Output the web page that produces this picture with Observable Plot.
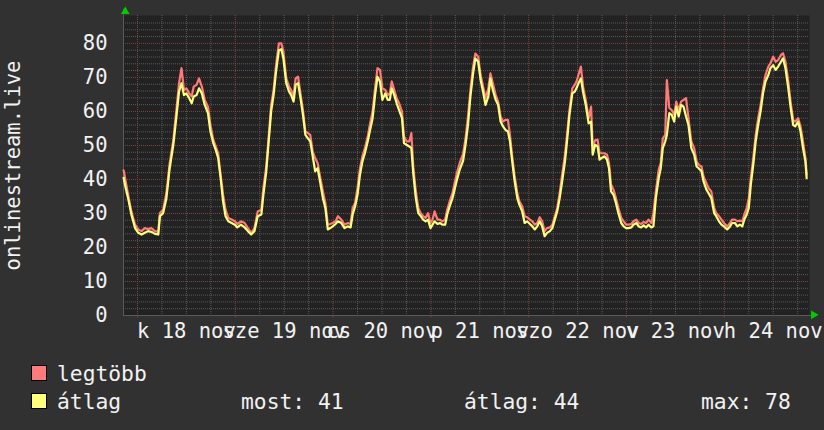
<!DOCTYPE html>
<html><head><meta charset="utf-8">
<script src="https://cdn.jsdelivr.net/npm/d3@7"></script>
<script src="https://cdn.jsdelivr.net/npm/@observablehq/plot@0.6"></script>
<style>
html,body{margin:0;padding:0;background:#313131;}
body{width:824px;height:430px;overflow:hidden;font-family:"DejaVu Sans Mono",monospace;color:#f2f2f2;}
#wrap{position:relative;width:824px;height:430px;}
#chart{position:absolute;left:0;top:0;}
.sw{position:absolute;width:14px;height:14px;border:1px solid #000;}
.lt{position:absolute;font-size:21.3px;line-height:1;white-space:pre;}
</style></head>
<body><div id="wrap"><div id="chart"></div></div>
<script>
// hours since 18 nov 00:00
const hours=[-3.4,-2.9,-2.3,-1.5,-0.6,0.2,1.0,1.8,2.6,3.4,4.3,5.1,5.5,6.3,7.1,7.9,8.8,9.6,10.2,10.8,11.4,12.0,12.7,13.3,13.8,14.5,15.1,15.8,16.5,17.3,17.9,18.6,19.2,19.8,20.4,21.0,21.6,22.3,23.1,23.9,24.5,
25.4,26.3,27.1,27.9,28.7,29.5,30.4,30.9,31.6,32.2,32.8,33.4,34.0,34.7,35.3,35.8,36.5,37.2,37.7,38.3,38.8,39.4,40.0,40.6,41.2,41.8,42.4,43.0,43.6,44.2,44.8,45.5,46.1,46.7,47.3,47.9,48.6,49.2,50.0,50.8,51.6,52.3,
52.8,53.4,54.0,54.6,55.2,55.8,56.5,57.0,57.7,58.3,58.9,59.5,60.1,60.8,61.4,61.9,62.4,63.0,63.6,64.2,64.9,65.4,66.0,66.7,67.2,67.7,68.3,68.9,69.5,70.1,70.7,71.3,71.9,72.4,72.9,73.6,74.2,74.8,75.5,76.0,76.6,77.3,77.9,78.5,79.1,
79.9,80.5,81.1,81.7,82.3,82.9,83.6,84.2,84.8,85.4,86.1,86.6,87.2,87.9,88.5,89.1,89.7,90.3,90.9,91.4,91.9,92.5,93.2,93.7,94.4,95.0,95.6,96.3,96.9,97.5,98.1,98.7,99.3,99.9,100.5,101.2,101.8,102.4,103.0,103.6,104.2,104.9,105.4,106.0,106.7,107.3,
107.8,108.2,108.8,109.4,110.0,110.7,111.3,111.7,112.3,112.9,113.4,113.9,114.6,115.2,115.7,116.2,116.8,117.4,118.0,118.7,119.3,119.9,120.5,121.2,121.7,122.4,123.0,123.6,124.2,124.8,125.4,126.1,126.6,127.2,127.9,128.4,128.9,129.5,129.9,130.5,131.1,131.7,132.2,132.8,133.4,134.0,134.6,135.2,
135.9,136.6,137.2,137.7,138.4,138.9,139.6,140.1,140.8,141.5,142.0,142.7,143.3,143.9,144.7,145.4,145.9,146.6,147.2,147.8,148.4,148.9,149.5,150.0,150.5,151.1,151.7,152.3,152.9,153.5,154.1,154.8,155.3,156.0,156.6,157.2,157.9,158.4,159.0,159.7,160.3,160.9,161.4,162.1,162.7,163.3,163.9,164.2];

// legtöbb (max)
const maxVals=[42.7,39.5,35.5,30.6,26.7,25.3,24.8,25.7,25.4,25.7,24.8,24.6,30.1,31.1,36.0,44.8,51.6,61.0,68.3,72.7,66.3,66.8,65.3,64.4,67.3,67.8,69.7,67.3,63.4,61.4,56.0,51.7,49.7,47.7,41.4,35.5,31.1,28.7,28.2,27.7,26.9,
27.7,27.2,25.7,24.3,25.7,30.6,31.1,37.5,43.8,52.6,61.9,66.3,73.6,80.0,80.0,77.6,69.7,67.3,66.3,64.4,69.7,70.2,65.3,60.4,54.1,53.6,53.1,48.2,46.3,44.8,40.9,36.5,33.1,26.7,26.9,27.2,27.7,29.2,28.2,26.7,27.2,26.9,
31.6,33.1,37.5,43.3,46.8,49.2,52.6,56.0,60.0,66.8,72.7,72.2,66.8,66.3,64.8,65.3,68.8,66.3,63.9,62.4,60.0,52.6,51.2,51.2,53.6,43.3,36.5,31.6,30.1,29.2,28.7,30.1,27.2,28.2,30.6,28.2,28.2,27.7,28.2,31.1,33.6,36.0,39.4,42.4,45.0,
47.5,52.1,58.5,66.3,72.7,77.0,76.1,70.7,67.3,63.9,66.8,71.2,68.3,64.8,62.9,58.5,57.0,57.5,57.5,53.1,47.3,41.4,36.0,33.6,32.1,29.2,28.9,28.2,27.7,26.7,27.2,28.9,27.7,24.8,25.7,25.9,26.7,29.2,31.6,36.0,41.4,47.3,53.1,60.4,66.8,67.8,
69.0,70.7,73.2,66.8,63.4,58.0,61.4,49.7,51.5,51.7,47.7,47.7,47.7,47.3,44.8,38.5,37.0,34.5,31.6,28.7,27.7,26.7,26.7,26.9,27.7,28.2,27.2,26.9,27.5,27.2,28.2,27.2,30.1,36.5,42.9,44.8,52.1,53.1,69.2,61.0,60.4,59.0,62.9,60.4,62.9,63.4,63.9,58.0,
51.2,49.2,45.3,44.3,43.8,40.9,38.9,37.5,36.5,31.6,30.1,29.2,28.2,27.2,26.2,27.2,28.2,28.2,27.7,27.9,27.7,29.7,31.6,34.5,40.4,46.3,53.1,58.0,61.9,66.8,70.7,73.2,74.1,76.1,74.6,75.1,76.6,77.1,74.6,68.8,62.4,57.5,57.0,58.0,55.6,51.2,46.3,41.4];

// átlag (average)
const avgVals=[40.5,37.5,34.5,29.7,25.7,24.3,23.8,24.3,24.8,24.6,24.0,23.8,29.2,30.1,34.5,43.3,50.2,59.0,65.8,68.3,64.8,65.3,63.9,62.4,64.4,64.8,66.8,65.3,61.9,59.5,54.1,50.7,48.7,46.3,40.4,33.6,29.2,27.7,27.2,26.7,25.9,
26.7,25.9,24.8,23.8,24.8,29.2,29.7,35.5,42.4,51.2,60.0,64.8,71.7,78.0,78.3,75.6,68.3,65.8,64.8,62.9,67.8,68.3,63.9,59.0,53.1,52.1,51.2,46.8,42.4,43.3,39.4,34.5,31.6,25.3,25.7,26.2,26.9,27.7,27.2,25.7,26.2,25.9,
29.7,32.1,35.5,41.4,45.3,47.7,51.2,54.1,58.0,64.8,70.2,68.8,63.4,65.3,63.4,63.4,66.8,64.8,62.4,60.4,58.0,50.7,50.2,49.7,49.2,41.4,34.5,30.1,29.2,28.2,27.7,28.2,25.7,26.7,27.7,26.9,27.2,26.7,26.7,29.7,32.1,34.5,37.5,40.4,43.0,
45.5,50.2,56.0,64.4,70.7,75.6,74.6,69.2,65.8,61.9,64.4,69.7,66.3,63.4,61.9,57.0,55.6,54.6,54.1,51.2,45.8,39.9,34.5,32.6,30.6,27.2,27.7,26.9,26.2,25.3,26.2,27.7,26.2,23.3,24.3,24.8,25.7,28.2,30.6,34.5,39.4,45.3,51.2,59.0,65.3,65.8,
67.0,68.3,69.7,65.3,61.9,56.5,57.0,47.3,50.2,49.7,45.8,46.3,46.8,45.8,43.3,36.5,35.5,33.1,30.1,27.2,26.2,25.7,25.7,25.9,26.7,27.2,26.2,25.9,26.5,25.9,26.7,25.9,26.2,34.5,40.4,43.3,49.2,51.2,53.1,59.5,59.0,57.0,61.4,58.5,61.9,61.4,58.5,56.0,
49.2,47.3,43.8,43.3,42.4,39.4,37.0,36.0,34.5,30.1,29.2,27.7,26.7,26.2,25.3,26.2,27.2,27.2,26.2,26.7,26.2,28.2,29.7,31.6,38.5,44.3,51.2,56.0,60.0,65.3,68.8,70.7,72.7,73.6,72.2,73.2,74.6,75.6,72.7,66.8,60.9,56.0,55.6,57.0,54.1,49.2,45.3,40.4];

const yTicks=[0,10,20,30,40,50,60,70,80];
const dayLabelHours=[12,36,60,84,108,132,156];
const dayLabels=["k 18 nov","sze 19 nov","cs 20 nov","p 21 nov","szo 22 nov","v 23 nov","h 24 nov"];
const yTitle="onlinestream.live";
const seriesNames=["legtöbb","átlag"];
const seriesColors=["#ff7a7a","#ffff7a"];
const statTexts=["most: 41","átlag: 44","max: 78"];

const xDomain=[-3.43,164.9];
const yDomain=[0,88.2];
const data=hours.map((h,i)=>({h,max:maxVals[i],avg:avgVals[i]}));
const majorX=d3.range(0,165,24);
const minorX=d3.range(0,165,6).filter(h=>h%24!==0);
const majorY=d3.range(10,81,10);
const minorY=d3.range(2,88,2).filter(v=>v%10!==0);

const chart=Plot.plot({
  width:824,height:345,
  marginLeft:123,marginRight:15,marginTop:15,marginBottom:30,
  style:{background:"transparent",color:"#f2f2f2",fontFamily:"'DejaVu Sans Mono',monospace",fontSize:"20.5px",overflow:"visible"},
  x:{domain:xDomain},
  y:{domain:yDomain},
  marks:[
    Plot.frame({fill:"#222222",stroke:null}),
    Plot.ruleY(minorY,{stroke:"#5a5a5a",strokeDasharray:"1,1"}),
    Plot.ruleX(minorX,{stroke:"#5a5a5a",strokeDasharray:"1,1"}),
    Plot.ruleY(majorY,{stroke:"#7e4545",strokeDasharray:"1,1"}),
    Plot.ruleX(majorX,{stroke:"#7e4545",strokeDasharray:"1,1"}),
    Plot.ruleX(majorX,{y1:0,y2:-0.7,stroke:"#7e4545"}),
    Plot.ruleX([xDomain[0]],{y1:0,y2:90,stroke:"#5a5a5a"}),
    Plot.ruleY([0],{x1:xDomain[0],x2:166,stroke:"#5a5a5a"}),
    Plot.lineY(data,{x:"h",y:"max",stroke:seriesColors[0],strokeWidth:2.2}),
    Plot.lineY(data,{x:"h",y:"avg",stroke:seriesColors[1],strokeWidth:2.2}),
    Plot.dot([0],{x:()=>-3.0,y:()=>89.4,symbol:"triangle",r:3.2,fill:"#00cc00",stroke:null}),
    Plot.dot([0],{x:()=>165.9,y:()=>0.2,symbol:"triangle",r:3.2,fill:"#00cc00",stroke:null,rotate:90}),
    Plot.axisY({ticks:yTicks,tickSize:0,tickPadding:16,label:null,fontSize:20.5,fill:"#f2f2f2"}),
    Plot.axisX({ticks:dayLabelHours,tickFormat:d=>dayLabels[dayLabelHours.indexOf(d)],tickSize:0,tickPadding:8,label:null,fontSize:20.5,fill:"#f2f2f2"}),
    Plot.text([yTitle],{frameAnchor:"left",textAnchor:"middle",lineAnchor:"middle",dx:-110,rotate:-90,fontSize:20.5,fill:"#f2f2f2"})
  ]
});
const wrap=document.getElementById("wrap");
document.getElementById("chart").appendChild(chart);

function add(cls,style,text){
  const el=document.createElement("div");
  el.className=cls;
  Object.assign(el.style,style);
  if(text!==undefined) el.textContent=text;
  wrap.appendChild(el);
}
const rowBase=[381.5,409.5];
seriesNames.forEach((n,i)=>{
  add("sw",{left:"31px",top:(rowBase[i]-16.5)+"px",background:seriesColors[i]});
  add("lt",{left:"57px",top:(rowBase[i]-18.2)+"px"},n);
});
const statX=[241,464,701];
statTexts.forEach((t,i)=>add("lt",{left:statX[i]+"px",top:(rowBase[1]-18.2)+"px"},t));
</script>
</body></html>
